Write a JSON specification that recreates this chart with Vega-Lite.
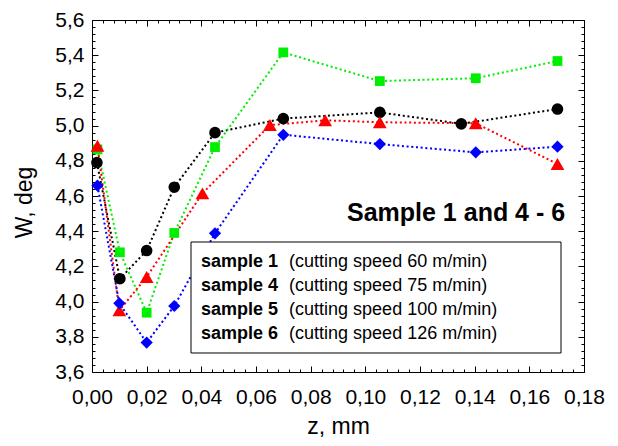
{
  "$schema": "https://vega.github.io/schema/vega-lite/v6.json",
  "width": 492,
  "height": 352,
  "autosize": {"type": "none"},
  "padding": {"left": 92, "top": 20, "right": 34, "bottom": 74},
  "background": "white",
  "config": {
    "view": {"stroke": "black", "strokeWidth": 1},
    "axis": {
      "grid": false,
      "domain": false,
      "tickColor": "black",
      "tickWidth": 1,
      "labelFont": "Liberation Sans",
      "labelFontSize": 21,
      "labelColor": "black",
      "titleFont": "Liberation Sans",
      "titleFontSize": 23,
      "titleFontWeight": "normal",
      "titleColor": "black",
      "labelOverlap": false,
      "labelFlush": false,
      "labelBound": false
    }
  },
  "datasets": {
    "w": [
      {"sample": "sample 1", "z": 0.0018, "W": 4.79},
      {"sample": "sample 1", "z": 0.0102, "W": 4.13},
      {"sample": "sample 1", "z": 0.0200, "W": 4.29},
      {"sample": "sample 1", "z": 0.0301, "W": 4.65},
      {"sample": "sample 1", "z": 0.0450, "W": 4.96},
      {"sample": "sample 1", "z": 0.0700, "W": 5.04},
      {"sample": "sample 1", "z": 0.1053, "W": 5.075},
      {"sample": "sample 1", "z": 0.1351, "W": 5.01},
      {"sample": "sample 1", "z": 0.1703, "W": 5.094},
      {"sample": "sample 4", "z": 0.0020, "W": 4.865},
      {"sample": "sample 4", "z": 0.0102, "W": 4.28},
      {"sample": "sample 4", "z": 0.0200, "W": 3.937},
      {"sample": "sample 4", "z": 0.0301, "W": 4.39},
      {"sample": "sample 4", "z": 0.0450, "W": 4.878},
      {"sample": "sample 4", "z": 0.0700, "W": 5.416},
      {"sample": "sample 4", "z": 0.1053, "W": 5.253},
      {"sample": "sample 4", "z": 0.1404, "W": 5.269},
      {"sample": "sample 4", "z": 0.1703, "W": 5.367},
      {"sample": "sample 5", "z": 0.0020, "W": 4.885},
      {"sample": "sample 5", "z": 0.0100, "W": 3.95},
      {"sample": "sample 5", "z": 0.0200, "W": 4.14},
      {"sample": "sample 5", "z": 0.0404, "W": 4.615},
      {"sample": "sample 5", "z": 0.0651, "W": 5.003},
      {"sample": "sample 5", "z": 0.0853, "W": 5.03},
      {"sample": "sample 5", "z": 0.1053, "W": 5.019},
      {"sample": "sample 5", "z": 0.1404, "W": 5.013},
      {"sample": "sample 5", "z": 0.1703, "W": 4.782},
      {"sample": "sample 6", "z": 0.0020, "W": 4.659},
      {"sample": "sample 6", "z": 0.0100, "W": 3.99},
      {"sample": "sample 6", "z": 0.0200, "W": 3.767},
      {"sample": "sample 6", "z": 0.0301, "W": 3.975},
      {"sample": "sample 6", "z": 0.0450, "W": 4.388},
      {"sample": "sample 6", "z": 0.0700, "W": 4.948},
      {"sample": "sample 6", "z": 0.1053, "W": 4.895},
      {"sample": "sample 6", "z": 0.1404, "W": 4.848},
      {"sample": "sample 6", "z": 0.1703, "W": 4.88}
    ],
    "legend": [
      {"bold": "sample 1\nsample 4\nsample 5\nsample 6", "desc": "(cutting speed 60 m/min)\n(cutting speed 75 m/min)\n(cutting speed 100 m/min)\n(cutting speed 126 m/min)", "title": "Sample 1 and 4 - 6"}
    ]
  },
  "layer": [
    {
      "data": {"name": "w"},
      "mark": {"type": "line", "interpolate": "linear", "strokeDash": [2, 2.7], "strokeWidth": 2, "strokeCap": "butt"},
      "encoding": {
        "x": {
          "field": "z", "type": "quantitative",
          "scale": {"domain": [0, 0.18], "nice": false, "zero": false},
          "axis": {
            "orient": "bottom",
            "values": [0,0.004,0.008,0.012,0.016,0.02,0.024,0.028,0.032,0.036,0.04,0.044,0.048,0.052,0.056,0.06,0.064,0.068,0.072,0.076,0.08,0.084,0.088,0.092,0.096,0.1,0.104,0.108,0.112,0.116,0.12,0.124,0.128,0.132,0.136,0.14,0.144,0.148,0.152,0.156,0.16,0.164,0.168,0.172,0.176,0.18],
            "tickSize": {"condition": {"test": "abs(datum.value*50 - round(datum.value*50)) < 0.01", "value": -6}, "value": -3},
            "labelExpr": "abs(datum.value*50 - round(datum.value*50)) < 0.01 ? replace(format(datum.value, '.2f'), '.', ',') : ''",
            "labelPadding": 20,
            "title": "z, mm",
            "titleX": 246,
            "titleY": 61,
            "titleBaseline": "alphabetic",
            "titleAlign": "center"
          }
        },
        "y": {
          "field": "W", "type": "quantitative",
          "scale": {"domain": [3.6, 5.6], "nice": false, "zero": false},
          "axis": {
            "orient": "left",
            "values": [3.6,3.64,3.68,3.72,3.76,3.8,3.84,3.88,3.92,3.96,4,4.04,4.08,4.12,4.16,4.2,4.24,4.28,4.32,4.36,4.4,4.44,4.48,4.52,4.56,4.6,4.64,4.68,4.72,4.76,4.8,4.84,4.88,4.92,4.96,5,5.04,5.08,5.12,5.16,5.2,5.24,5.28,5.32,5.36,5.4,5.44,5.48,5.52,5.56,5.6],
            "tickSize": {"condition": {"test": "abs(datum.value*5 - round(datum.value*5)) < 0.01", "value": -6}, "value": -3},
            "labelExpr": "abs(datum.value*5 - round(datum.value*5)) < 0.01 ? replace(format(datum.value, '.1f'), '.', ',') : ''",
            "labelPadding": 14,
            "title": "W, deg",
            "titleAngle": 270,
            "titleX": -61,
            "titleY": 182,
            "titleBaseline": "alphabetic",
            "titleAlign": "center"
          }
        },
        "color": {
          "field": "sample", "type": "nominal",
          "scale": {"domain": ["sample 1", "sample 4", "sample 5", "sample 6"], "range": ["#000000", "#00ee00", "#ff0000", "#0000ff"]},
          "legend": null
        }
      }
    },
    {
      "data": {"name": "w"},
      "mark": {"type": "point", "filled": true, "opacity": 1},
      "encoding": {
        "x": {
          "field": "z", "type": "quantitative",
          "scale": {"domain": [0, 0.18], "nice": false, "zero": false},
          "axis": {
            "orient": "top",
            "values": [0,0.004,0.008,0.012,0.016,0.02,0.024,0.028,0.032,0.036,0.04,0.044,0.048,0.052,0.056,0.06,0.064,0.068,0.072,0.076,0.08,0.084,0.088,0.092,0.096,0.1,0.104,0.108,0.112,0.116,0.12,0.124,0.128,0.132,0.136,0.14,0.144,0.148,0.152,0.156,0.16,0.164,0.168,0.172,0.176,0.18],
            "tickSize": {"condition": {"test": "abs(datum.value*50 - round(datum.value*50)) < 0.01", "value": -6}, "value": -3},
            "labels": false,
            "title": null
          }
        },
        "y": {
          "field": "W", "type": "quantitative",
          "scale": {"domain": [3.6, 5.6], "nice": false, "zero": false},
          "axis": {
            "orient": "right",
            "values": [3.6,3.64,3.68,3.72,3.76,3.8,3.84,3.88,3.92,3.96,4,4.04,4.08,4.12,4.16,4.2,4.24,4.28,4.32,4.36,4.4,4.44,4.48,4.52,4.56,4.6,4.64,4.68,4.72,4.76,4.8,4.84,4.88,4.92,4.96,5,5.04,5.08,5.12,5.16,5.2,5.24,5.28,5.32,5.36,5.4,5.44,5.48,5.52,5.56,5.6],
            "tickSize": {"condition": {"test": "abs(datum.value*5 - round(datum.value*5)) < 0.01", "value": -6}, "value": -3},
            "labels": false,
            "title": null
          }
        },
        "color": {
          "field": "sample", "type": "nominal",
          "scale": {"domain": ["sample 1", "sample 4", "sample 5", "sample 6"], "range": ["#000000", "#00ee00", "#ff0000", "#0000ff"]},
          "legend": null
        },
        "shape": {
          "field": "sample", "type": "nominal",
          "scale": {"domain": ["sample 1", "sample 4", "sample 5", "sample 6"], "range": ["circle", "square", "triangle-up", "diamond"]},
          "legend": null
        },
        "size": {
          "field": "sample", "type": "ordinal",
          "scale": {"type": "ordinal", "domain": ["sample 1", "sample 4", "sample 5", "sample 6"], "range": [135, 95, 190, 150]},
          "legend": null
        }
      }
    },
    {
      "data": {"name": "legend"},
      "mark": {"type": "rect", "fill": "white", "stroke": "black", "strokeWidth": 1},
      "encoding": {
        "x": {"datum": 0.03622, "type": "quantitative", "axis": null},
        "x2": {"datum": 0.17159},
        "y": {"datum": 4.3386, "type": "quantitative", "axis": null},
        "y2": {"datum": 3.708}
      }
    },
    {
      "data": {"name": "legend"},
      "mark": {"type": "text", "font": "Liberation Sans", "fontSize": 18, "fontWeight": "bold", "align": "left", "baseline": "middle", "lineBreak": "\n", "lineHeight": 24, "color": "black"},
      "encoding": {
        "x": {"datum": 0.0399, "type": "quantitative", "axis": null},
        "y": {"datum": 4.223, "type": "quantitative", "axis": null},
        "text": {"field": "bold", "type": "nominal"}
      }
    },
    {
      "data": {"name": "legend"},
      "mark": {"type": "text", "font": "Liberation Sans", "fontSize": 18, "fontWeight": "normal", "align": "left", "baseline": "middle", "lineBreak": "\n", "lineHeight": 24, "color": "black"},
      "encoding": {
        "x": {"datum": 0.0721, "type": "quantitative", "axis": null},
        "y": {"datum": 4.223, "type": "quantitative", "axis": null},
        "text": {"field": "desc", "type": "nominal"}
      }
    },
    {
      "data": {"name": "legend"},
      "mark": {"type": "text", "font": "Liberation Sans", "fontSize": 25, "fontWeight": "bold", "align": "right", "baseline": "middle", "color": "black"},
      "encoding": {
        "x": {"datum": 0.1731, "type": "quantitative", "axis": null},
        "y": {"datum": 4.506, "type": "quantitative", "axis": null},
        "text": {"field": "title", "type": "nominal"}
      }
    }
  ]
}
